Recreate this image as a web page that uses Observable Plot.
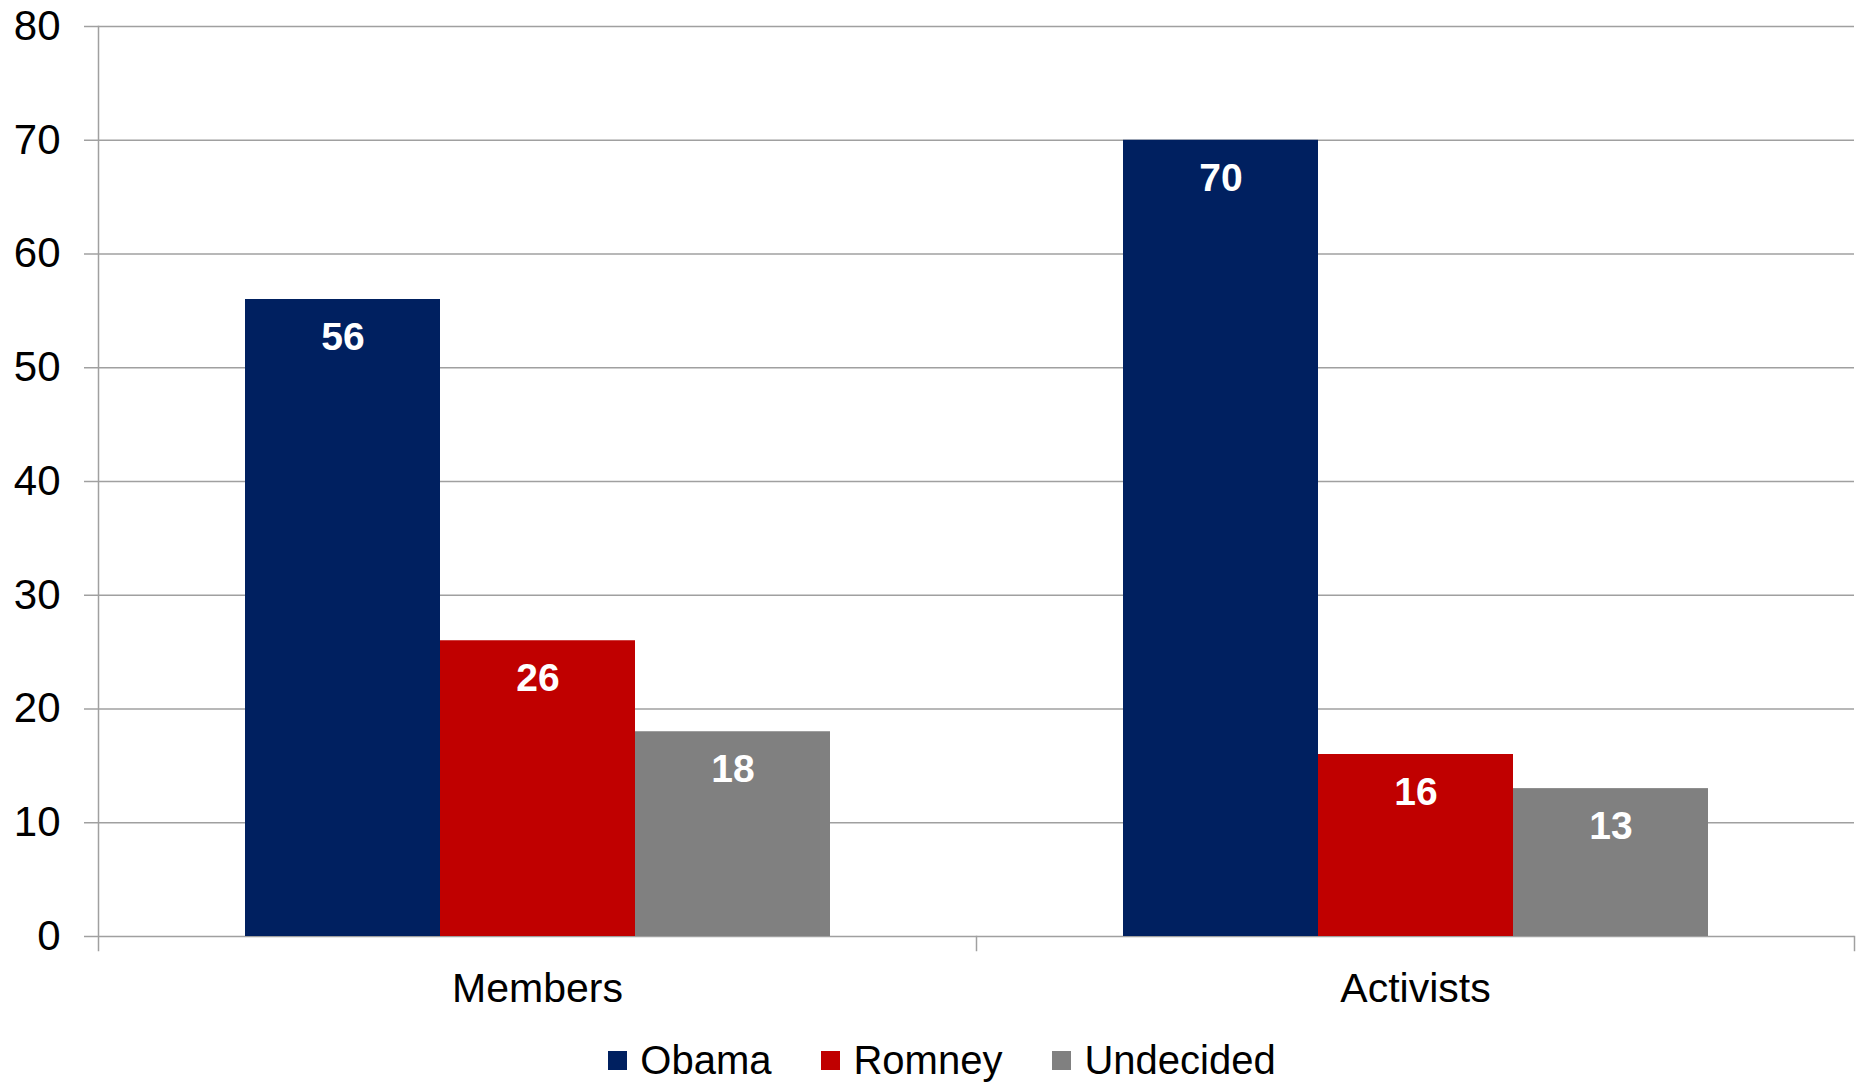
<!DOCTYPE html>
<html><head><meta charset="utf-8">
<script src="https://cdn.jsdelivr.net/npm/d3@7"></script>
<script src="https://cdn.jsdelivr.net/npm/@observablehq/plot@0.6"></script>
<style>
html,body{margin:0;padding:0;background:#fff;overflow:hidden}
#legend{display:flex;justify-content:center;align-items:center;height:48px;padding-top:14px;padding-left:26px;font-family:"Liberation Sans",Arial,sans-serif;font-size:40px;color:#000}
.item{display:flex;align-items:center;margin:0 25px}
.sw{width:19px;height:19px;margin-right:13px}
</style></head><body>
<div id="chart"></div><div id="legend"></div>
<script>
const categories = ["Members", "Activists"];
const seriesNames = ["Obama", "Romney", "Undecided"];
const obamaValues = [56, 70];
const romneyValues = [26, 16];
const undecidedValues = [18, 13];
const yTicks = [0, 10, 20, 30, 40, 50, 60, 70, 80];
const seriesColors = ["#002060", "#c00000", "#808080"];

const valuesBySeries = [obamaValues, romneyValues, undecidedValues];
const data = categories.flatMap((c, ci) => seriesNames.map((s, si) => ({category: c, series: s, value: valuesBySeries[si][ci]})));

const W = 1858, H = 1022, mt = 26, mb = 72, tickLen = 14;
const frameH = H - mt - mb;
const gridColor = "#a0a0a0";
const chart = Plot.plot({
  width: W, height: H, marginTop: mt, marginBottom: mb, marginLeft: 97, marginRight: 4,
  style: {fontFamily: "'Liberation Sans', Arial, sans-serif", fontSize: "40px", color: "#000", background: "#fff"},
  fx: {domain: categories, padding: 0, label: null},
  x: {domain: seriesNames, paddingInner: 0, paddingOuter: 0.75, axis: null},
  y: {domain: [0, 80], insetBottom: tickLen, label: null},
  color: {domain: seriesNames, range: seriesColors},
  marks: [
    Plot.gridY(yTicks, {stroke: gridColor, strokeOpacity: 1, strokeWidth: 1.5}),
    Plot.barY(data, {fx: "category", x: "series", y: "value", fill: "series"}),
    Plot.text(data, {fx: "category", x: "series", y: "value", text: d => String(d.value), fill: "white", fontWeight: "bold", fontSize: 39, lineAnchor: "middle", dy: 38}),
    Plot.axisY(yTicks, {tickSize: tickLen, tickPadding: 24, stroke: gridColor, strokeOpacity: 1, strokeWidth: 1.5, fill: "#000", fontSize: 42, label: null}),
    Plot.axisFx({anchor: "bottom", tickSize: 0, tickPadding: 22, fontSize: 41, fill: "#000", label: null}),
    Plot.frame({anchor: "right", insetTop: frameH - tickLen, stroke: gridColor, strokeWidth: 1.5}),
    Plot.frame({anchor: "left", stroke: gridColor, strokeWidth: 1.5, fx: () => "Members"})
  ]
});
document.getElementById("chart").appendChild(chart);

const legend = document.getElementById("legend");
seriesNames.forEach((s, i) => {
  const item = document.createElement("div");
  item.className = "item";
  const sw = document.createElement("span");
  sw.className = "sw";
  sw.style.background = seriesColors[i];
  const label = document.createElement("span");
  label.textContent = s;
  item.appendChild(sw);
  item.appendChild(label);
  legend.appendChild(item);
});
</script>
</body></html>
